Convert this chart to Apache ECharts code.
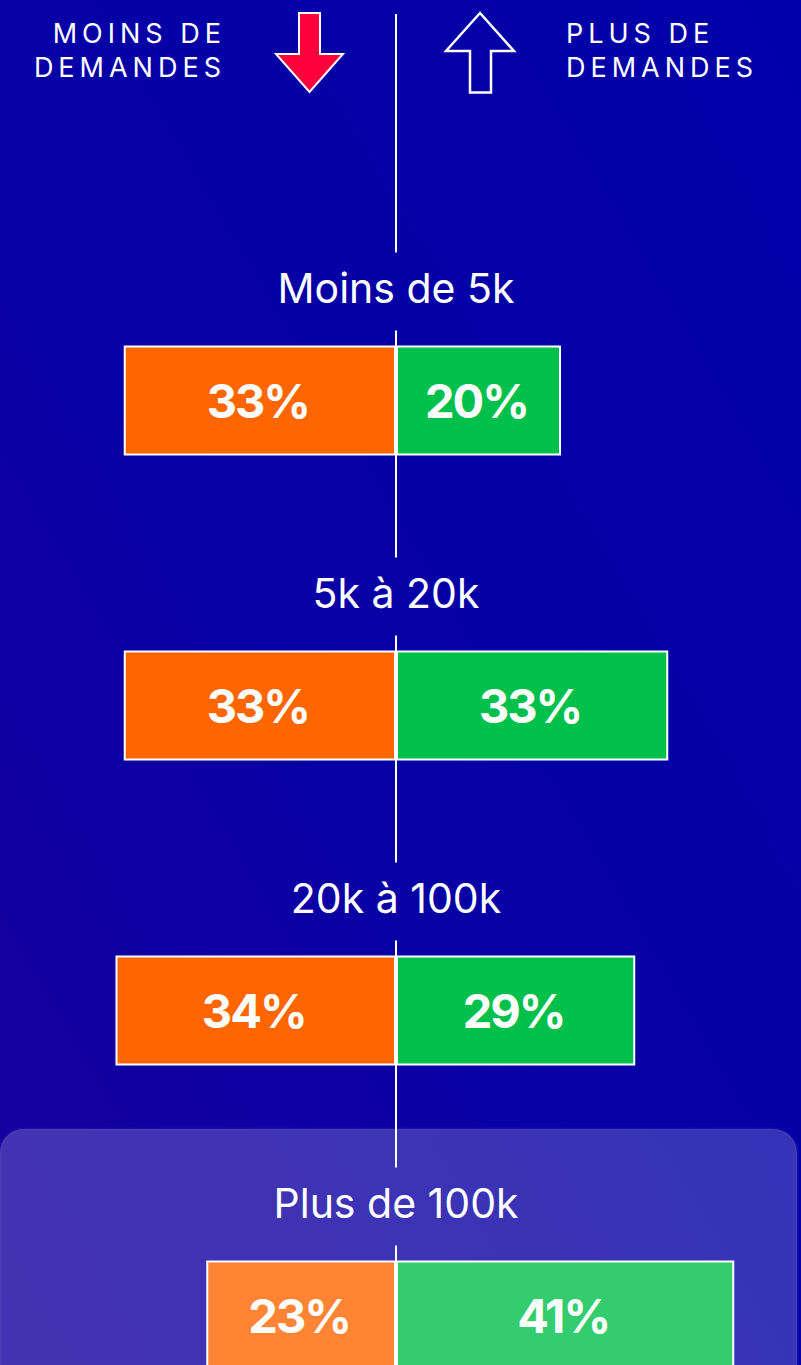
<!DOCTYPE html>
<html>
<head>
<meta charset="utf-8">
<script src="https://cdn.jsdelivr.net/npm/echarts@6/dist/echarts.min.js"></script>
<style>
  html, body { margin: 0; padding: 0; background: #0000a8; }
  #chart { width: 801px; height: 1365px; }
  text[style*="HdrFont"] { letter-spacing: 5px; }
  text[style*="PctFont"] { letter-spacing: -2px; }
</style>
</head>
<body>
<div id="chart"></div>
<script>
const categories = ['Moins de 5k', '5k à 20k', '20k à 100k', 'Plus de 100k'];
const moinsValues = [33, 33, 34, 23];
const plusValues = [20, 33, 29, 41];
const headerLeft = 'MOINS DE\nDEMANDES';
const headerRight = 'PLUS DE\nDEMANDES';

const FONT = 'Inter, "Noto Sans", sans-serif';
const HDR_FONT = 'Inter, HdrFont, "Noto Sans", sans-serif';
const PCT_FONT = 'Inter, PctFont, "Noto Sans", sans-serif';

const chart = echarts.init(document.getElementById('chart'), null, { renderer: 'svg', width: 801, height: 1365 });

const barLabel = {
  show: true,
  position: 'inside',
  offset: [-2, 0],
  color: '#ffffff',
  fontFamily: PCT_FONT,
  fontWeight: 700,
  fontSize: 47,
  formatter: p => Math.abs(p.value) + '%'
};

const option = {
  backgroundColor: 'transparent',
  animation: false,
  grid: { left: 0, top: 248, width: 792, height: 1220, outerBoundsMode: 'none', containLabel: false },
  xAxis: {
    type: 'value', min: -48, max: 48,
    show: false
  },
  yAxis: {
    type: 'category', data: categories, inverse: true,
    show: false
  },
  graphic: [
    {
      type: 'rect', z: -10, silent: true,
      shape: { x: 0, y: 0, width: 801, height: 1365 },
      style: {
        fill: new echarts.graphic.LinearGradient(0, 1, 1, 0, [
          { offset: 0, color: '#17009e' },
          { offset: 0.5, color: '#0600a6' },
          { offset: 1, color: '#0000a8' }
        ])
      }
    },
    {
      type: 'text', z: 5, silent: true,
      style: {
        text: headerLeft, x: 226, y: 16,
        align: 'right', verticalAlign: 'top',
        fill: '#ffffff', fontFamily: HDR_FONT, fontSize: 27, lineHeight: 34
      }
    },
    {
      type: 'text', z: 5, silent: true,
      style: {
        text: headerRight, x: 566, y: 16,
        align: 'left', verticalAlign: 'top',
        fill: '#ffffff', fontFamily: HDR_FONT, fontSize: 27, lineHeight: 34
      }
    },
    {
      type: 'polygon', z: 5, silent: true,
      shape: { points: [[299, 13], [320, 13], [320, 54], [343, 54], [309.5, 92], [276, 54], [299, 54]] },
      style: { fill: '#ff003c', stroke: '#ffffff', lineWidth: 2 }
    },
    {
      type: 'polygon', z: 5, silent: true,
      shape: { points: [[480, 13], [514, 51], [491, 51], [491, 92.5], [470, 92.5], [470, 51], [446, 51]] },
      style: { fill: 'none', stroke: '#ffffff', lineWidth: 2.5 }
    },
    {
      type: 'rect', z: 100, silent: true,
      shape: { x: 0, y: 1129, width: 797, height: 320, r: 24 },
      style: { fill: 'rgba(255,255,255,0.2)', stroke: 'rgba(255,255,255,0.05)', lineWidth: 3 }
    }
  ],
  series: [
    {
      type: 'custom', z: 1, silent: true,
      data: categories.map((c, i) => [0, i]),
      encode: { x: 0, y: 1 },
      renderItem: (params, api) => {
        const p = api.coord([0, api.value(1)]);
        const children = [{
          type: 'line',
          shape: { x1: p[0], y1: p[1] - 70, x2: p[0], y2: p[1] + 157 },
          style: { stroke: '#ffffff', lineWidth: 2 }
        }];
        if (params.dataIndex === 0) {
          children.push({
            type: 'line',
            shape: { x1: p[0], y1: 14, x2: p[0], y2: p[1] - 148 },
            style: { stroke: '#ffffff', lineWidth: 2 }
          });
        }
        return { type: 'group', children };
      }
    },
    {
      name: 'Moins de demandes', type: 'bar', stack: 'total',
      barWidth: 110,
      data: moinsValues.map(v => -v),
      itemStyle: { color: '#ff6600', borderColor: '#ffffff', borderWidth: 2 },
      label: barLabel, z: 3
    },
    {
      name: 'Plus de demandes', type: 'bar', stack: 'total',
      barWidth: 110,
      data: plusValues,
      itemStyle: { color: '#00c04c', borderColor: '#ffffff', borderWidth: 2 },
      label: barLabel, z: 3
    },
    {
      type: 'scatter', symbolSize: 0, silent: true, z: 4,
      itemStyle: { opacity: 1 },
      data: categories.map((c, i) => [0, i]),
      label: {
        show: true, position: 'inside', offset: [0, -113],
        color: '#ffffff', opacity: 1, fontFamily: FONT, fontSize: 41, fontWeight: 400,
        formatter: p => categories[p.dataIndex]
      }
    }
  ]
};
chart.setOption(option);
</script>
</body>
</html>
